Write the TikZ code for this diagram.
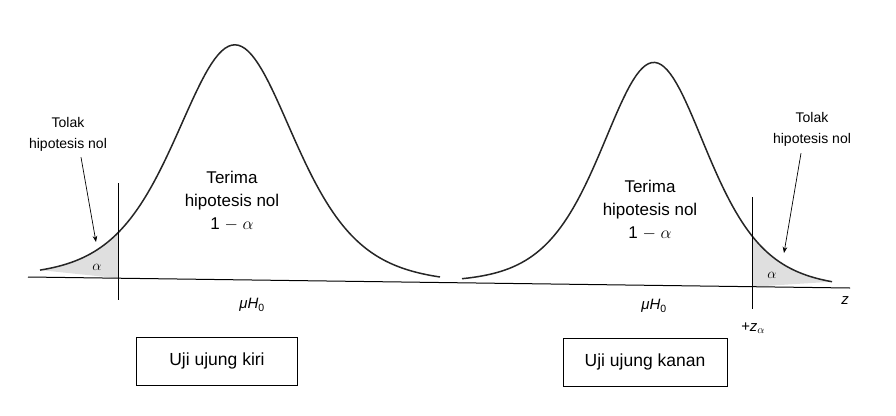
\documentclass[tikz,border=0pt]{standalone}
\usepackage{fontspec}
\setmainfont{Liberation Sans}
\usetikzlibrary{arrows.meta,positioning}

\begin{document}
\begin{tikzpicture}[x=1pt,y=-1pt,>=Stealth,
  curve/.style={line width=1.5pt,black!85},
  tail/.style={fill=gray!25},
  lbl/.style={align=center,font=\fontsize{14}{21}\selectfont,inner sep=1pt},
  mid/.style={align=center,font=\fontsize{17}{23}\selectfont,inner sep=1pt},
  sym/.style={font=\fontsize{15}{17}\selectfont,inner sep=1pt},
  testbox/.style={draw,line width=0.9pt,minimum width=161pt,minimum height=48pt,font=\fontsize{17.5}{20}\selectfont}]
\useasboundingbox (0,0) rectangle (896,415);
% shaded tails
\fill[tail] plot[domain=40:118,samples=40] (\x,{277+0.01338*(\x-28)-235/(cosh((\x-235)/80)^2)}) -- (118,278.2) -- cycle;
\fill[tail] (752,286.8) -- plot[domain=752:832,samples=40] (\x,{277+0.01338*(\x-28)-223/(cosh((\x-654)/71.5)^2)}) -- cycle;
% axis
\draw[line width=1pt] (28,277) -- (850,288);
% curves
\draw[curve] plot[domain=40:440,samples=120] (\x,{277+0.01338*(\x-28)-235/(cosh((\x-235)/80)^2)});
\draw[curve] plot[domain=462:832,samples=120] (\x,{277+0.01338*(\x-28)-223/(cosh((\x-654)/71.5)^2)});
% critical values
\coordinate (cutLt) at (118,183);
\coordinate (cutLb) at (118,300);
\coordinate (cutRt) at (752,197);
\coordinate (cutRb) at (752,309);
\draw[line width=0.8pt] (cutLt) -- (cutLb);
\draw[line width=0.8pt] (cutRt) -- (cutRb);
\node[sym] (alphaL) at (97,267) {$\alpha$};
\node[sym] (alphaR) at (772,275) {$\alpha$};
% left test
\node[lbl] (tolakL) at (68,134) {Tolak\\hipotesis nol};
\coordinate (tipL) at (96,242);
\draw[->,line width=0.7pt] (tolakL.south)++(13,5) -- (tipL);
\node[mid] (terimaL) at (232,201) {Terima\\hipotesis nol\\1 $-$ $\alpha$};
\node[sym] (muL) at (252,305) {\textit{μH}\textsubscript{0}};
\node[testbox] (kiri) at (217,361) {Uji ujung kiri};
% right test
\node[lbl] (tolakR) at (812,129) {Tolak\\hipotesis nol};
\coordinate (tipR) at (784,253);
\draw[->,line width=0.7pt] (tolakR.south)++(-11,6) -- (tipR);
\node[mid] (terimaR) at (650,210) {Terima\\hipotesis nol\\1 $-$ $\alpha$};
\node[sym] (muR) at (654,306) {\textit{μH}\textsubscript{0}};
\node[sym] (zcrit) at (753,328) {\textit{+z}\textsubscript{$\alpha$}};
\node[sym] (zlab) at (845,301) {\textit{z}};
\node[testbox,minimum width=164pt] (kanan) at (645,362) {Uji ujung kanan};
\end{tikzpicture}
\end{document}
